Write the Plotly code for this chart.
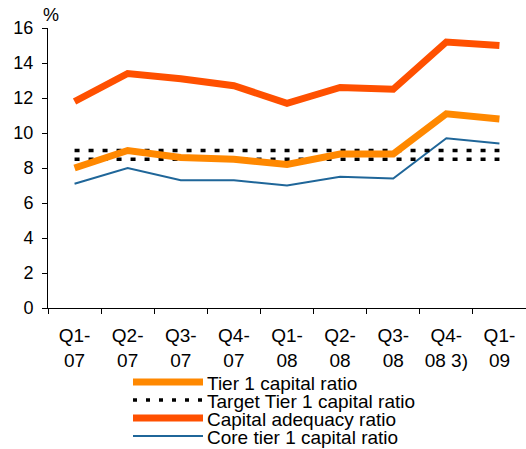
import plotly.graph_objects as go

categories = ["Q1-<br>07", "Q2-<br>07", "Q3-<br>07", "Q4-<br>07", "Q1-<br>08",
              "Q2-<br>08", "Q3-<br>08", "Q4-<br>08 3)", "Q1-<br>09"]
tier1 = [8.0, 9.0, 8.6, 8.5, 8.2, 8.8, 8.8, 11.1, 10.8]
target_upper = [9.0] * 9
target_lower = [8.5] * 9
capital_adequacy = [11.8, 13.4, 13.1, 12.7, 11.7, 12.6, 12.5, 15.2, 15.0]
core_tier1 = [7.1, 8.0, 7.3, 7.3, 7.0, 7.5, 7.4, 9.7, 9.4]
y_ticks = [0, 2, 4, 6, 8, 10, 12, 14, 16]

names = ["Tier 1 capital ratio", "Target Tier 1 capital ratio",
         "Capital adequacy ratio", "Core tier 1 capital ratio"]
c_tier1 = "#FF8800"
c_cap = "#FF5000"
c_core = "#1F6699"
dot_style = "5px,9px"

fig = go.Figure()
fig.add_trace(go.Scatter(x=categories, y=core_tier1, mode="lines",
                         line=dict(color=c_core, width=2), name=names[3], showlegend=False))
fig.add_trace(go.Scatter(x=categories, y=target_upper, mode="lines",
                         line=dict(color="black", width=3.5, dash=dot_style), name=names[1], showlegend=False))
fig.add_trace(go.Scatter(x=categories, y=target_lower, mode="lines",
                         line=dict(color="black", width=3.5, dash=dot_style), name=names[1], showlegend=False))
fig.add_trace(go.Scatter(x=categories, y=tier1, mode="lines",
                         line=dict(color=c_tier1, width=7), name=names[0], showlegend=False))
fig.add_trace(go.Scatter(x=categories, y=capital_adequacy, mode="lines",
                         line=dict(color=c_cap, width=7), name=names[2], showlegend=False))

# custom legend (layout decoration in paper coordinates)
L, R, T, B = 48, 526, 28, 308
W, H = R - L, B - T
def px(x):
    return (x - L) / W
def py(y):
    return (B - y) / H

legend_rows = [(382, c_tier1, 7, "solid"), (400, "black", 3.5, "dot"),
               (418, c_cap, 7, "solid"), (436, c_core, 2, "solid")]
shapes = []
annotations = []
for (yy, col, w, d), nm in zip(legend_rows, names):
    shapes.append(dict(type="line", xref="paper", yref="paper",
                       x0=px(133), x1=px(203), y0=py(yy), y1=py(yy),
                       line=dict(color=col, width=w, dash=("4px,9px" if d == "dot" else "solid"))))
    annotations.append(dict(xref="paper", yref="paper", x=px(205), y=py(yy + 1),
                            xanchor="left", yanchor="middle", text=nm, showarrow=False,
                            font=dict(size=19, color="black")))
annotations.append(dict(xref="paper", yref="paper", x=px(51), y=py(15),
                        xanchor="center", yanchor="middle", text="%", showarrow=False,
                        font=dict(size=18, color="black")))

fig.update_layout(
    width=526, height=449,
    margin=dict(l=L, r=526 - R, t=T, b=449 - B),
    paper_bgcolor="white", plot_bgcolor="white",
    font=dict(family="Liberation Sans, Arial, sans-serif", size=18, color="black"),
    showlegend=False,
    shapes=shapes, annotations=annotations,
    xaxis=dict(showline=True, linecolor="black", linewidth=1, ticks="outside",
               tickson="boundaries", ticklen=5, tickcolor="black", showgrid=False,
               range=[-0.5, 8.5], tickfont=dict(size=19), ticklabelstandoff=10),
    yaxis=dict(showline=True, linecolor="black", linewidth=1, ticks="outside",
               ticklen=5, tickcolor="black", showgrid=False, zeroline=False,
               range=[0, 16], tickvals=y_ticks, tickfont=dict(size=18), ticklabelstandoff=5),
)

fig.write_html("out.html", config={"displayModeBar": False},
               post_script="document.body.style.margin='0';document.body.style.overflow='hidden';")
